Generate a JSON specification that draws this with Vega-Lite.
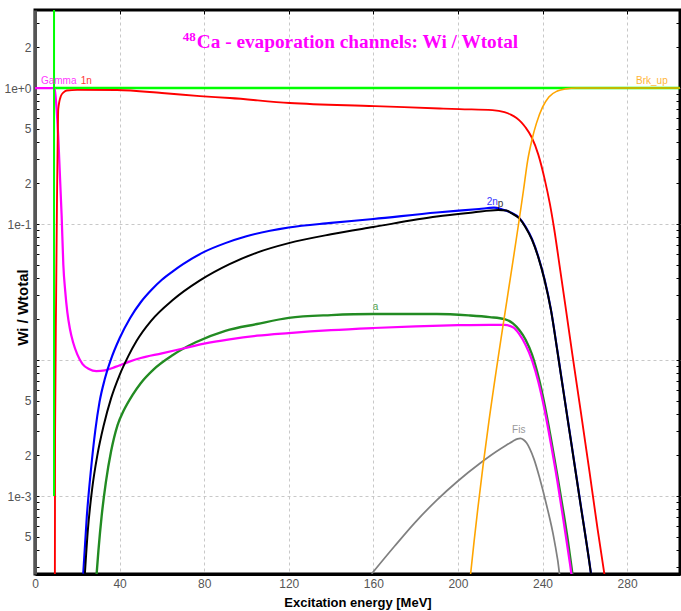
{
  "$schema": "https://vega.github.io/schema/vega-lite/v6.json",
  "width": 645,
  "height": 564,
  "autosize": "none",
  "padding": {"left": 35, "top": 10, "right": 1, "bottom": 37},
  "background": "#ffffff",
  "config": {"view": {"stroke": "#000000", "strokeWidth": 3}},
  "datasets": {
    "curves": [
      {"s":"tot","x":9.0,"y":1.0},{"s":"tot","x":305,"y":1.0},
      {"s":"a","x":29.0,"y":0.000251},{"s":"a","x":30.0,"y":0.000398},{"s":"a","x":31.5,"y":0.000708},{"s":"a","x":33.5,"y":0.00126},{"s":"a","x":36.0,"y":0.00214},{"s":"a","x":39.0,"y":0.00331},{"s":"a","x":42.0,"y":0.00427},{"s":"a","x":46.0,"y":0.0055},{"s":"a","x":50.0,"y":0.00676},{"s":"a","x":56.0,"y":0.00851},{"s":"a","x":65.0,"y":0.01084},{"s":"a","x":76.0,"y":0.0135},{"s":"a","x":90.0,"y":0.0164},{"s":"a","x":105.0,"y":0.0184},{"s":"a","x":120.0,"y":0.0204},{"s":"a","x":140.0,"y":0.0214},{"s":"a","x":160.0,"y":0.0218},{"s":"a","x":190.0,"y":0.0218},{"s":"a","x":205.0,"y":0.0213},{"s":"a","x":215.0,"y":0.0207},{"s":"a","x":222.0,"y":0.0200},{"s":"a","x":226.0,"y":0.0186},{"s":"a","x":229.0,"y":0.0166},{"s":"a","x":232.0,"y":0.0141},{"s":"a","x":235.0,"y":0.0110},{"s":"a","x":238.0,"y":0.00759},{"s":"a","x":241.0,"y":0.00468},{"s":"a","x":244.0,"y":0.00263},{"s":"a","x":247.0,"y":0.00141},{"s":"a","x":250.0,"y":0.00074},{"s":"a","x":252.0,"y":0.000468},{"s":"a","x":254.2,"y":0.000263},{"s":"a","x":254.4,"y":0.00025},
      {"s":"Gamma","x":0,"y":1.0},{"s":"Gamma","x":9.2,"y":1.0},{"s":"Gamma","x":9.45,"y":0.95},{"s":"Gamma","x":11.0,"y":0.44},{"s":"Gamma","x":12.6,"y":0.115},{"s":"Gamma","x":13.4,"y":0.05},{"s":"Gamma","x":14.3,"y":0.032},{"s":"Gamma","x":15.3,"y":0.0224},{"s":"Gamma","x":16.5,"y":0.017},{"s":"Gamma","x":18.0,"y":0.0135},{"s":"Gamma","x":20.0,"y":0.011},{"s":"Gamma","x":22.5,"y":0.00933},{"s":"Gamma","x":25.5,"y":0.0086},{"s":"Gamma","x":29.0,"y":0.0083},{"s":"Gamma","x":33.0,"y":0.0084},{"s":"Gamma","x":38.0,"y":0.0089},{"s":"Gamma","x":44.0,"y":0.00966},{"s":"Gamma","x":50.0,"y":0.01035},{"s":"Gamma","x":60.0,"y":0.0112},{"s":"Gamma","x":70.0,"y":0.01216},{"s":"Gamma","x":80.0,"y":0.0132},{"s":"Gamma","x":92.0,"y":0.0142},{"s":"Gamma","x":105.0,"y":0.0151},{"s":"Gamma","x":120.0,"y":0.0158},{"s":"Gamma","x":140.0,"y":0.0166},{"s":"Gamma","x":160.0,"y":0.0172},{"s":"Gamma","x":180.0,"y":0.0177},{"s":"Gamma","x":200.0,"y":0.01803},{"s":"Gamma","x":215.0,"y":0.01816},{"s":"Gamma","x":222.0,"y":0.01811},{"s":"Gamma","x":226.0,"y":0.0174},{"s":"Gamma","x":229.0,"y":0.0155},{"s":"Gamma","x":232.0,"y":0.0129},{"s":"Gamma","x":235.0,"y":0.0100},{"s":"Gamma","x":238.0,"y":0.00692},{"s":"Gamma","x":241.0,"y":0.00427},{"s":"Gamma","x":244.0,"y":0.0024},{"s":"Gamma","x":247.0,"y":0.00129},{"s":"Gamma","x":250.0,"y":0.000646},{"s":"Gamma","x":253.0,"y":0.000316},{"s":"Gamma","x":253.9,"y":0.000251},
      {"s":"2n","x":22.8,"y":0.000269},{"s":"2n","x":24.5,"y":0.000708},{"s":"2n","x":26.5,"y":0.00158},{"s":"2n","x":28.5,"y":0.00302},{"s":"2n","x":30.5,"y":0.0049},{"s":"2n","x":33.0,"y":0.00724},{"s":"2n","x":36.0,"y":0.0102},{"s":"2n","x":40.0,"y":0.01445},{"s":"2n","x":45.0,"y":0.0204},{"s":"2n","x":50.0,"y":0.0266},{"s":"2n","x":55.0,"y":0.0327},{"s":"2n","x":60.0,"y":0.0389},{"s":"2n","x":65.0,"y":0.0447},{"s":"2n","x":70.0,"y":0.0507},{"s":"2n","x":80.0,"y":0.0624},{"s":"2n","x":90.0,"y":0.0724},{"s":"2n","x":100.0,"y":0.0813},{"s":"2n","x":120.0,"y":0.0944},{"s":"2n","x":140.0,"y":0.102},{"s":"2n","x":160.0,"y":0.109},{"s":"2n","x":190.0,"y":0.1216},{"s":"2n","x":210.0,"y":0.129},{"s":"2n","x":217.0,"y":0.132},{"s":"2n","x":221.0,"y":0.128},{"s":"2n","x":225.0,"y":0.1216},{"s":"2n","x":229.0,"y":0.111},{"s":"2n","x":232.0,"y":0.0955},{"s":"2n","x":235.0,"y":0.0776},{"s":"2n","x":238.0,"y":0.0575},{"s":"2n","x":241.0,"y":0.0389},{"s":"2n","x":244.0,"y":0.0234},{"s":"2n","x":247.0,"y":0.01175},{"s":"2n","x":250.0,"y":0.00575},{"s":"2n","x":254.0,"y":0.00224},{"s":"2n","x":258.0,"y":0.00087},{"s":"2n","x":262.0,"y":0.000339},{"s":"2n","x":263.0,"y":0.000263},
      {"s":"p","x":23.6,"y":0.000269},{"s":"p","x":25.0,"y":0.000562},{"s":"p","x":27.0,"y":0.00112},{"s":"p","x":29.5,"y":0.002},{"s":"p","x":32.5,"y":0.00331},{"s":"p","x":36.0,"y":0.00525},{"s":"p","x":40.0,"y":0.00776},{"s":"p","x":44.0,"y":0.0106},{"s":"p","x":48.0,"y":0.0138},{"s":"p","x":55.0,"y":0.0195},{"s":"p","x":65.0,"y":0.0275},{"s":"p","x":78.0,"y":0.0385},{"s":"p","x":92.0,"y":0.0507},{"s":"p","x":105.0,"y":0.0617},{"s":"p","x":120.0,"y":0.0724},{"s":"p","x":140.0,"y":0.0841},{"s":"p","x":160.0,"y":0.0951},{"s":"p","x":190.0,"y":0.1135},{"s":"p","x":207.0,"y":0.1216},{"s":"p","x":219.0,"y":0.127},{"s":"p","x":223.0,"y":0.126},{"s":"p","x":225.0,"y":0.1208},{"s":"p","x":229.0,"y":0.110},{"s":"p","x":232.0,"y":0.0945},{"s":"p","x":235.0,"y":0.0768},{"s":"p","x":238.0,"y":0.0569},{"s":"p","x":241.0,"y":0.0385},{"s":"p","x":244.0,"y":0.0232},{"s":"p","x":247.0,"y":0.01165},{"s":"p","x":250.0,"y":0.0057},{"s":"p","x":254.0,"y":0.00222},{"s":"p","x":258.0,"y":0.00086},{"s":"p","x":262.0,"y":0.000336},{"s":"p","x":263.0,"y":0.00026},
      {"s":"1n","x":9.4,"y":0.00025},{"s":"1n","x":9.5,"y":0.003},{"s":"1n","x":10.0,"y":0.03},{"s":"1n","x":10.4,"y":0.15},{"s":"1n","x":10.8,"y":0.5},{"s":"1n","x":11.0,"y":0.7},{"s":"1n","x":12.2,"y":0.87},{"s":"1n","x":13.5,"y":0.93},{"s":"1n","x":15.0,"y":0.96},{"s":"1n","x":20.0,"y":0.97},{"s":"1n","x":38.7,"y":0.967},{"s":"1n","x":60.0,"y":0.92},{"s":"1n","x":78.0,"y":0.873},{"s":"1n","x":92.1,"y":0.845},{"s":"1n","x":120.5,"y":0.776},{"s":"1n","x":160.6,"y":0.737},{"s":"1n","x":191.3,"y":0.708},{"s":"1n","x":200.8,"y":0.70},{"s":"1n","x":216.3,"y":0.689},{"s":"1n","x":222.0,"y":0.665},{"s":"1n","x":225.0,"y":0.638},{"s":"1n","x":227.7,"y":0.603},{"s":"1n","x":230.0,"y":0.56},{"s":"1n","x":232.0,"y":0.513},{"s":"1n","x":234.8,"y":0.4365},{"s":"1n","x":238.0,"y":0.324},{"s":"1n","x":241.0,"y":0.214},{"s":"1n","x":243.5,"y":0.14},{"s":"1n","x":245.6,"y":0.09},{"s":"1n","x":248.0,"y":0.0501},{"s":"1n","x":250.8,"y":0.0251},{"s":"1n","x":254.1,"y":0.011},{"s":"1n","x":258.0,"y":0.00427},{"s":"1n","x":262.2,"y":0.00151},{"s":"1n","x":266.0,"y":0.000575},{"s":"1n","x":269.5,"y":0.000251},
      {"s":"Fis","x":159.2,"y":0.000268},{"s":"Fis","x":170.0,"y":0.000427},{"s":"Fis","x":180.0,"y":0.000646},{"s":"Fis","x":190.0,"y":0.000933},{"s":"Fis","x":200.0,"y":0.00129},{"s":"Fis","x":210.0,"y":0.001718},{"s":"Fis","x":218.0,"y":0.002113},{"s":"Fis","x":223.0,"y":0.002371},{"s":"Fis","x":226.0,"y":0.00253},{"s":"Fis","x":228.2,"y":0.00263},{"s":"Fis","x":229.5,"y":0.00265},{"s":"Fis","x":231.0,"y":0.00259},{"s":"Fis","x":232.5,"y":0.00245},{"s":"Fis","x":234.0,"y":0.00222},{"s":"Fis","x":236.0,"y":0.00186},{"s":"Fis","x":238.5,"y":0.00138},{"s":"Fis","x":241.8,"y":0.00087},{"s":"Fis","x":245.6,"y":0.000468},{"s":"Fis","x":248.0,"y":0.000269},{"s":"Fis","x":248.2,"y":0.000251},
      {"s":"Brk_up","x":205.8,"y":0.00025},{"s":"Brk_up","x":206.0,"y":0.000268},{"s":"Brk_up","x":231.0,"y":0.178},{"s":"Brk_up","x":233.0,"y":0.295},{"s":"Brk_up","x":235.0,"y":0.417},{"s":"Brk_up","x":237.1,"y":0.55},{"s":"Brk_up","x":240.0,"y":0.724},{"s":"Brk_up","x":243.0,"y":0.861},{"s":"Brk_up","x":247.0,"y":0.951},{"s":"Brk_up","x":251.0,"y":0.986},{"s":"Brk_up","x":256.0,"y":1.0},{"s":"Brk_up","x":305,"y":1.0}
    ],
    "vline": [{"s":"tot","x":9.0,"y":0.001,"y2":4.0}],
    "labels": [
      {"s":"Gamma","x":2.8,"y":1.13,"t":"Gamma"},
      {"s":"1n","x":21.6,"y":1.13,"t":"1n"},
      {"s":"2n","x":213.6,"y":0.146,"t":"2n"},
      {"s":"p","x":218.8,"y":0.141,"t":"p"},
      {"s":"a","x":159.7,"y":0.0247,"t":"a"},
      {"s":"Fis","x":225.6,"y":0.00306,"t":"Fis"},
      {"s":"Brk_up","x":284.2,"y":1.13,"t":"Brk_up"}
    ],
    "sup": [{"x":69.9,"y":2.2,"t":"48"}],
    "main": [{"x":76.5,"y":1.97,"t":"Ca  - evaporation channels:  Wi / Wtotal"}]
  },
  "resolve": {"axis": {"x": "independent", "y": "independent"}},
  "layer": [
    {
      "data": {"name": "curves"},
      "mark": {"type": "line", "clip": true, "interpolate": "monotone"},
      "encoding": {
        "x": {"field": "x", "type": "quantitative",
          "scale": {"domain": [0, 305], "nice": false, "zero": false},
          "axis": {"orient": "bottom", "values": [0,40,80,120,160,200,240,280], "ticks": false, "labelPadding": 4, "labelFlush": false,
            "labelFont": "Liberation Sans", "labelFontSize": 12, "labelColor": "#555555",
            "domainColor": "#000000", "domainWidth": 3,
            "grid": true, "gridDash": [3,3], "gridColor": "#c8c8c8",
            "gridOpacity": {"condition": {"test": "datum.value == 0", "value": 0}, "value": 1},
            "title": "Excitation energy [MeV]", "titleFont": "Liberation Sans", "titleFontSize": 13, "titleFontWeight": "bold", "titleColor": "#000000",
            "titleY": 28, "titleBaseline": "middle"}},
        "y": {"field": "y", "type": "quantitative",
          "scale": {"type": "log", "domain": [0.000267, 3.75], "nice": false},
          "axis": {"orient": "left",
            "values": [0.0003,0.0004,0.0005,0.0006,0.0007,0.0008,0.0009,0.001,0.002,0.003,0.004,0.005,0.006,0.007,0.008,0.009,0.01,0.02,0.03,0.04,0.05,0.06,0.07,0.08,0.09,0.1,0.2,0.3,0.4,0.5,0.6,0.7,0.8,0.9,1,2,3],
            "labelExpr": "datum.value==1?'1e+0':datum.value==0.1?'1e-1':datum.value==0.001?'1e-3':(datum.value==2||datum.value==0.2||datum.value==0.002)?'2':(datum.value==0.5||datum.value==0.005||datum.value==0.0005)?'5':''",
            "tickSize": -4, "tickColor": "#000000", "labelPadding": 8,
            "labelFont": "Liberation Sans", "labelFontSize": 12, "labelColor": "#555555",
            "domainColor": "#555555", "domainWidth": 3,
            "grid": true, "gridDash": [3,3], "gridColor": "#c8c8c8",
            "gridOpacity": {"condition": {"test": "datum.value==1||datum.value==0.1||datum.value==0.01||datum.value==0.001", "value": 1}, "value": 0},
            "title": "Wi / Wtotal", "titleFont": "Liberation Sans", "titleFontSize": 15, "titleFontWeight": "bold", "titleColor": "#000000",
            "titleX": -13, "titleY": 297, "titleAlign": "center", "titleBaseline": "middle", "titleAngle": 270}},
        "color": {"field": "s", "type": "nominal", "legend": null,
          "scale": {"domain": ["tot","a","Gamma","2n","p","1n","Fis","Brk_up"], "range": ["#00ff00","#228b22","#ff00ff","#0000ff","#000000","#ff0000","#808080","#ffa500"]}},
        "strokeWidth": {"field": "s", "type": "nominal", "legend": null,
          "scale": {"domain": ["tot","a","Gamma","2n","p","1n","Fis","Brk_up"], "range": [2.5,1.6,2,2,2,2,1.6,1.6]}}
      }
    },
    {
      "data": {"name": "vline"},
      "mark": {"type": "rule", "clip": true, "color": "#00ff00", "strokeWidth": 2},
      "encoding": {
        "x": {"field": "x", "type": "quantitative",
          "axis": {"orient": "top", "values": [40,80,120,160,200,240,280], "labels": false, "domain": false, "grid": false, "tickSize": -4, "tickColor": "#000000", "title": null}},
        "y": {"field": "y", "type": "quantitative",
          "axis": {"orient": "right", "values": [0.0003,0.0004,0.0005,0.0006,0.0007,0.0008,0.0009,0.001,0.002,0.003,0.004,0.005,0.006,0.007,0.008,0.009,0.01,0.02,0.03,0.04,0.05,0.06,0.07,0.08,0.09,0.1,0.2,0.3,0.4,0.5,0.6,0.7,0.8,0.9,1,2,3],
            "labels": false, "domain": false, "grid": false, "tickSize": -4, "tickColor": "#000000", "title": null}},
        "y2": {"field": "y2"}
      }
    },
    {
      "data": {"name": "labels"},
      "mark": {"type": "text", "align": "left", "baseline": "middle", "font": "Liberation Sans", "fontSize": 10, "opacity": 0.8},
      "encoding": {
        "x": {"field": "x", "type": "quantitative", "axis": null},
        "y": {"field": "y", "type": "quantitative", "axis": null},
        "text": {"field": "t"},
        "color": {"field": "s", "type": "nominal", "legend": null}
      }
    },
    {
      "data": {"name": "sup"},
      "mark": {"type": "text", "align": "left", "baseline": "alphabetic", "font": "Liberation Serif", "fontWeight": "bold", "fontSize": 13, "color": "#ff00ff"},
      "encoding": {
        "x": {"field": "x", "type": "quantitative", "axis": null},
        "y": {"field": "y", "type": "quantitative", "axis": null},
        "text": {"field": "t"}
      }
    },
    {
      "data": {"name": "main"},
      "mark": {"type": "text", "align": "left", "baseline": "alphabetic", "font": "Liberation Serif", "fontWeight": "bold", "fontSize": 19.3, "color": "#ff00ff"},
      "encoding": {
        "x": {"field": "x", "type": "quantitative", "axis": null},
        "y": {"field": "y", "type": "quantitative", "axis": null},
        "text": {"field": "t"}
      }
    }
  ]
}
